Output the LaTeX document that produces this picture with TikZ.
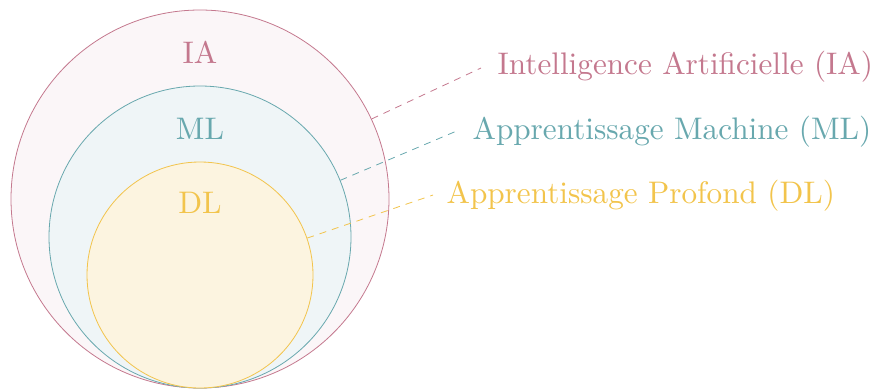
\documentclass[tikz,border=0pt]{standalone}
\definecolor{iacol}{RGB}{196,120,142}
\definecolor{mlcol}{RGB}{104,168,174}
\definecolor{dlcol}{RGB}{242,196,76}
\definecolor{iafill}{RGB}{251,246,248}
\definecolor{mlfill}{RGB}{239,245,247}
\definecolor{dlfill}{RGB}{252,244,224}
\tikzset{
  setc/.style={circle, draw=#1col, fill=#1fill, line width=0.8pt, inner sep=0pt},
  lead/.style={draw=#1col, line width=0.8pt, dash pattern=on 7pt off 6pt},
  lbl/.style={text=#1col, inner sep=0pt, font=\fontsize{10}{12}\selectfont, scale=3.12},
}
\begin{document}
\begin{tikzpicture}[x=1pt,y=1pt]
\useasboundingbox (0,0) rectangle (872,-388);
\node[setc=ia, minimum size=378pt] (ia) at (200,-199) {};
\node[setc=ml, minimum size=302pt] (ml) at (200,-237) {};
\node[setc=dl, minimum size=226pt] (dl) at (200,-275) {};
\node[lbl=ia, anchor=base] (iat) at (200,-63) {IA};
\node[lbl=ml, anchor=base] (mlt) at (200,-139) {ML};
\node[lbl=dl, anchor=base] (dlt) at (200,-213) {DL};
\coordinate (iae) at (481,-68);
\coordinate (mle) at (459,-130);
\coordinate (dle) at (433,-195);
\draw[lead=ia] (ia.25) -- (iae);
\draw[lead=ml] (ml.22) -- (mle);
\draw[lead=dl] (dl.19) -- (dle);
\node[lbl=ia, anchor=base west] (ial) at (497,-74) {Intelligence Artificielle (IA)};
\node[lbl=ml, anchor=base west] (mll) at (472,-139) {Apprentissage Machine (ML)};
\node[lbl=dl, anchor=base west] (dll) at (446,-203) {Apprentissage Profond (DL)};
\end{tikzpicture}
\end{document}
